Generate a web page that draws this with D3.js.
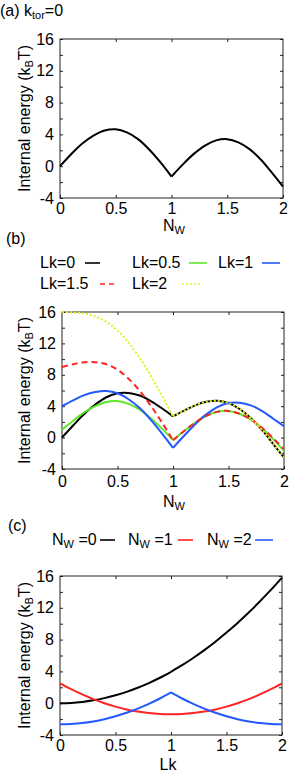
<!DOCTYPE html>
<html>
<head>
<meta charset="utf-8">
<script src="https://cdn.jsdelivr.net/npm/d3@7"></script>
<style>
    body { margin: 0; background: #fff; }
    svg { display: block; font-family: "Liberation Sans", Arial, sans-serif; }
</style>
</head>
<body>
<svg id="chart"></svg>
<script>
// x samples (Nw for panels a/b, Lk for panel c)
const samples = [0, 0.1, 0.2, 0.3, 0.4, 0.5, 0.6, 0.7, 0.8, 0.9, 1, 1.1, 1.2, 1.3, 1.4, 1.5, 1.6, 1.7, 1.8, 1.9, 2];
const xTickValues = [0, 0.5, 1, 1.5, 2];
const yTickValues = [-4, -2, 0, 2, 4, 6, 8, 10, 12, 14, 16];

// (a) k_tor = 0
const energyKtor0 = [0, 1.5, 2.85, 3.85, 4.5, 4.65, 4.25, 3.4, 2.1, 0.5, -1.3, 0.2, 1.55, 2.6, 3.25, 3.4, 3.0, 2.15, 0.85, -0.8, -2.56];

// (b) energy vs Nw for several Lk
const lkLabels = ["Lk=0", "Lk=0.5", "Lk=1", "Lk=1.5", "Lk=2"];
const lk0 = [0, 1.54, 3.01, 4.21, 5.14, 5.65, 5.69, 5.36, 4.66, 3.74, 2.7, 3.44, 4.11, 4.56, 4.69, 4.4, 3.64, 2.51, 1.01, -0.76, -2.56];
const lk05 = [1, 2.14, 3.21, 4.01, 4.54, 4.65, 4.29, 3.56, 2.46, 1.14, -0.3, 0.84, 1.91, 2.76, 3.29, 3.4, 3.04, 2.31, 1.21, -0.16, -1.7];
const lk1 = [4, 4.74, 5.41, 5.81, 5.94, 5.65, 4.89, 3.76, 2.26, 0.54, -1.3, 0.24, 1.71, 2.96, 3.89, 4.4, 4.44, 4.11, 3.41, 2.44, 1.44];
const lk15 = [9, 9.34, 9.61, 9.61, 9.34, 8.65, 7.49, 5.96, 4.06, 1.94, -0.35, 0.84, 1.91, 2.76, 3.29, 3.4, 3.04, 2.33, 1.27, -0.05, -1.45];
const lk2 = [16, 15.94, 15.81, 15.41, 14.74, 13.65, 12.09, 10.16, 7.86, 5.34, 2.7, 3.44, 4.11, 4.56, 4.69, 4.4, 3.64, 2.51, 1.01, -0.76, -2.56];

// (c) energy vs Lk for several Nw
const nwLabels = ["=0", "=1", "=2"];
const nw0 = [0, 0.04, 0.16, 0.36, 0.64, 1.0, 1.43, 1.94, 2.53, 3.2, 3.95, 4.78, 5.69, 6.68, 7.74, 8.89, 10.1, 11.4, 12.8, 14.25, 15.8];
const nw1 = [2.5, 1.76, 1.1, 0.51, 0.0, -0.43, -0.78, -1.05, -1.24, -1.36, -1.4, -1.36, -1.24, -1.05, -0.78, -0.43, 0.0, 0.51, 1.1, 1.76, 2.5];
const nw2 = [-2.65, -2.61, -2.49, -2.29, -2.01, -1.65, -1.21, -0.69, -0.09, 0.59, 1.35, 0.59, -0.09, -0.69, -1.21, -1.65, -2.01, -2.29, -2.49, -2.61, -2.65];

const FONT = 16;

// text with sub-scripts: parts = [[text, isSub], ...]
function richText(sel, parts) {
    let shifted = false;
    parts.forEach(p => {
        let t = sel.append("tspan").text(p[0]);
        if (p[1] && !shifted) { t.attr("font-size", 11).attr("dy", 3); shifted = true; }
        else if (p[1]) { t.attr("font-size", 11); }
        else if (shifted) { t.attr("dy", -3); shifted = false; }
    });
    return sel;
}

class EnergyPanel {

    constructor(config, series) {
        this.config = config;
        this.series = series;
        this.init();
        this.render();
    }

    init() {
        let self = this;
        let c = self.config;
        self.g = d3.select("#chart").append("g");

        self.xScale = d3.scaleLinear().domain([0, 2]).range([c.left, c.right]);
        self.yScale = d3.scaleLinear().domain([-4, 16]).range([c.bottom, c.top]);

        // inward ticks on all sides
        let left = self.g.append("g")
            .attr("transform", `translate(${c.left},0)`)
            .call(d3.axisLeft(self.yScale).tickValues(yTickValues).tickSize(-3).tickPadding(6)
                .tickFormat(d => d % 4 === 0 ? String(d) : ""));
        let right = self.g.append("g")
            .attr("transform", `translate(${c.right},0)`)
            .call(d3.axisRight(self.yScale).tickValues(yTickValues).tickSize(-3).tickFormat(""));
        let top = self.g.append("g")
            .attr("transform", `translate(0,${c.top})`)
            .call(d3.axisTop(self.xScale).tickValues([0.5, 1, 1.5]).tickSize(-3).tickFormat(""));
        let bottom = self.g.append("g")
            .attr("transform", `translate(0,${c.bottom})`)
            .call(d3.axisBottom(self.xScale).tickValues(xTickValues).tickSize(-3).tickPadding(c.xLabelPad)
                .tickFormat(d => String(d)));

        [left, right, top, bottom].forEach(a => {
            a.select(".domain").remove();
            a.selectAll("line").attr("stroke", "#222");
            a.selectAll("text").attr("font-size", FONT).attr("font-family", null).attr("fill", "#000");
        });

        // frame
        self.g.append("rect")
            .attr("x", c.left).attr("y", c.top)
            .attr("width", c.right - c.left).attr("height", c.bottom - c.top)
            .attr("fill", "none").attr("stroke", "#222").attr("stroke-width", 1);

        // y label
        let yl = self.g.append("text")
            .attr("transform", `translate(30,${(c.top + c.bottom) / 2}) rotate(-90)`)
            .attr("text-anchor", "middle")
            .attr("font-size", FONT);
        richText(yl, [["Internal energy (k", false], ["B", true], ["T)", false]]);

        // x label
        let xl = self.g.append("text")
            .attr("x", c.xTitleX).attr("y", c.bottom + c.xTitleDy)
            .attr("text-anchor", "middle")
            .attr("font-size", FONT);
        richText(xl, c.xTitle);

        // panel tag
        let tag = self.g.append("text")
            .attr("x", c.tagX).attr("y", c.tagY)
            .attr("font-size", FONT);
        richText(tag, c.tag);
    }

    render() {
        let self = this;
        let line = d3.line()
            .x(d => self.xScale(d[0]))
            .y(d => self.yScale(d[1]))
            .curve(d3.curveCatmullRom.alpha(0.5));

        self.series.forEach(s => {
            let pts = samples.map((x, i) => [x, s.values[i]]);
            // the curves have a cusp at 1, so draw both branches separately
            [pts.slice(0, 11), pts.slice(10)].forEach(seg => {
                self.g.append("path")
                    .attr("d", line(seg))
                    .attr("fill", "none")
                    .attr("stroke", s.color)
                    .attr("stroke-width", 2)
                    .attr("stroke-dasharray", s.dash || null);
            });
        });

        // legend
        (self.config.legend || []).forEach(l => {
            let t = self.g.append("text")
                .attr("x", l.x).attr("y", l.y)
                .attr("font-size", FONT);
            richText(t, l.text);
            self.g.append("line")
                .attr("x1", l.x1).attr("x2", l.x2)
                .attr("y1", l.y - 5).attr("y2", l.y - 5)
                .attr("stroke", l.color)
                .attr("stroke-width", 1.6)
                .attr("stroke-dasharray", l.dash || null);
        });
    }
}

const GREEN = "#5ee62a", BLUE = "#2458ff", RED = "#ff2424", YELLOW = "#e4ee2a";

d3.select("#chart").attr("width", 291).attr("height", 775);

new EnergyPanel({
    left: 60, right: 283, top: 39, bottom: 198,
    xLabelPad: 5, xTitleDy: 33, xTitleX: 174,
    xTitle: [["N", false], ["W", true]],
    tagX: 0, tagY: 16,
    tag: [["(a)  k", false], ["tor", true], ["=0", false]]
}, [{values: energyKtor0, color: "#000"}]);

new EnergyPanel({
    left: 62, right: 284, top: 312, bottom: 469,
    xLabelPad: 7, xTitleDy: 38, xTitleX: 174,
    xTitle: [["N", false], ["W", true]],
    tagX: 6, tagY: 244,
    tag: [["(b)", false]],
    legend: [
        {text: [[lkLabels[0], false]], x: 40, y: 268, x1: 85, x2: 100, color: "#000"},
        {text: [[lkLabels[1], false]], x: 132, y: 268, x1: 189, x2: 207, color: GREEN},
        {text: [[lkLabels[2], false]], x: 218, y: 268, x1: 262, x2: 280, color: BLUE},
        {text: [[lkLabels[3], false]], x: 40, y: 289, x1: 100, x2: 117, color: RED, dash: "5,4"},
        {text: [[lkLabels[4], false]], x: 132, y: 289, x1: 182, x2: 200, color: YELLOW, dash: "2,2"}
    ]
}, [
    {values: lk0, color: "#000"},
    {values: lk05, color: GREEN},
    {values: lk1, color: BLUE},
    {values: lk15, color: RED, dash: "6,4"},
    {values: lk2, color: YELLOW, dash: "2,2"}
]);

new EnergyPanel({
    left: 60, right: 282, top: 576, bottom: 735,
    xLabelPad: 5, xTitleDy: 35, xTitleX: 168,
    xTitle: [["Lk", false]],
    tagX: 8, tagY: 531,
    tag: [["(c)", false]],
    legend: [
        {text: [["N", false], ["W", true], [" " + nwLabels[0], false]], x: 52, y: 545, x1: 100, x2: 115, color: "#000"},
        {text: [["N", false], ["W", true], [" " + nwLabels[1], false]], x: 128, y: 545, x1: 178, x2: 193, color: RED},
        {text: [["N", false], ["W", true], [" " + nwLabels[2], false]], x: 207, y: 545, x1: 255, x2: 273, color: BLUE}
    ]
}, [
    {values: nw0, color: "#000"},
    {values: nw1, color: RED},
    {values: nw2, color: BLUE}
]);
</script>
</body>
</html>
